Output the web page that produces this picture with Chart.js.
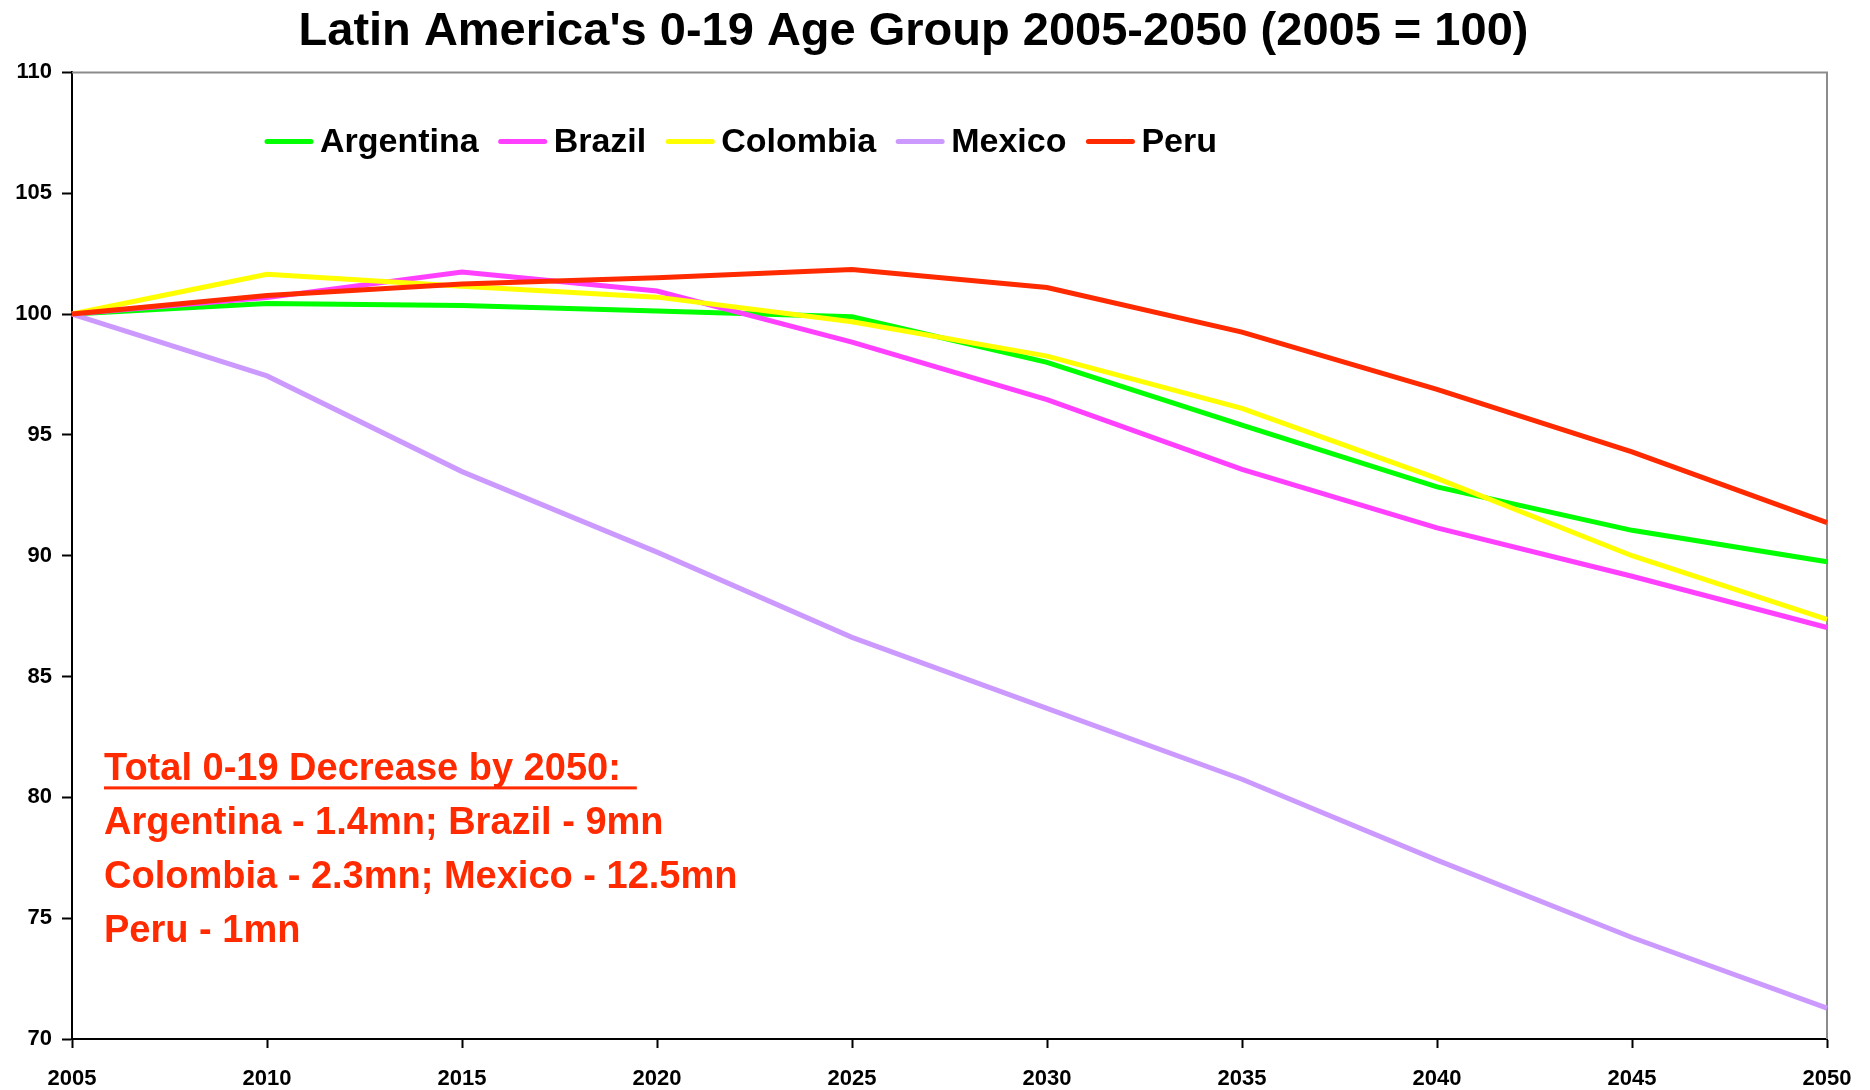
<!DOCTYPE html>
<html>
<head>
<meta charset="utf-8">
<title>Latin America's 0-19 Age Group</title>
<script src="https://cdn.jsdelivr.net/npm/chart.js@4.4.1/dist/chart.umd.min.js"></script>
<style>
  html, body { margin: 0; padding: 0; background: #fff; }
  canvas { display: block; }
</style>
</head>
<body>
<canvas id="ageChart" width="1870" height="1090"></canvas>
<script>
const years = [2005, 2010, 2015, 2020, 2025, 2030, 2035, 2040, 2045, 2050];

const argentina = [100, 100.44, 100.35, 100.13, 99.89, 98.0, 95.4, 92.85, 91.05, 89.75];
const brazil = [100, 100.68, 101.74, 100.95, 98.84, 96.46, 93.57, 91.15, 89.15, 87.03];
const colombia = [100, 101.65, 101.15, 100.7, 99.68, 98.26, 96.1, 93.2, 90.0, 87.36];
const mexico = [100, 97.44, 93.48, 90.15, 86.62, 83.68, 80.75, 77.4, 74.2, 71.28];
const peru = [100, 100.77, 101.24, 101.5, 101.84, 101.1, 99.25, 96.88, 94.3, 91.37];

const seriesNames = ['Argentina', 'Brazil', 'Colombia', 'Mexico', 'Peru'];
const seriesValues = [argentina, brazil, colombia, mexico, peru];
const seriesColors = ['#00ff00', '#ff40ff', '#ffff00', '#cc99ff', '#ff2a00'];

const yMin = 70;
const yMax = 110;
const yStep = 5;

const noteLines = [
  'Total 0-19 Decrease by 2050:',
  'Argentina - 1.4mn; Brazil - 9mn',
  'Colombia - 2.3mn; Mexico - 12.5mn',
  'Peru - 1mn'
];

const FONT = "'Liberation Sans', Arial, sans-serif";

// gray frame on top and right of the plot, like the excel original
const framePlugin = {
  id: 'frame',
  beforeDatasetsDraw(chart) {
    const { ctx, chartArea: a } = chart;
    ctx.save();
    ctx.strokeStyle = '#8c8c8c';
    ctx.lineWidth = 2;
    ctx.beginPath();
    ctx.moveTo(a.left, a.top);
    ctx.lineTo(a.right, a.top);
    ctx.lineTo(a.right, a.bottom);
    ctx.stroke();
    ctx.restore();
  }
};

// legend sits inside the plot area
const insideLegend = {
  id: 'insideLegend',
  afterDraw(chart) {
    const { ctx, chartArea: a } = chart;
    ctx.save();
    ctx.font = `bold 34px ${FONT}`;
    ctx.textBaseline = 'middle';
    let x = a.left + 193;
    const y = a.top + 69;
    seriesNames.forEach((name, i) => {
      ctx.strokeStyle = seriesColors[i];
      ctx.lineWidth = 5;
      ctx.lineCap = 'round';
      ctx.beginPath();
      ctx.moveTo(x + 2, y);
      ctx.lineTo(x + 46, y);
      ctx.stroke();
      ctx.fillStyle = '#000';
      ctx.fillText(name, x + 55, y + 1);
      x += 55 + ctx.measureText(name).width + 20;
    });
    ctx.restore();
  }
};

const notePlugin = {
  id: 'note',
  afterDraw(chart) {
    const { ctx, chartArea: a } = chart;
    ctx.save();
    ctx.font = `bold 38px ${FONT}`;
    ctx.fillStyle = '#ff2a00';
    ctx.textBaseline = 'alphabetic';
    const x = a.left + 32;
    let y = a.top + 708;
    noteLines.forEach((line, i) => {
      ctx.fillText(line, x, y);
      if (i === 0) {
        const w = ctx.measureText(line).width;
        ctx.fillRect(x, y + 6, w + 16, 3);
      }
      y += 54;
    });
    ctx.restore();
  }
};

new Chart(document.getElementById('ageChart').getContext('2d'), {
  type: 'line',
  data: {
    labels: years,
    datasets: seriesNames.map((name, i) => ({
      label: name,
      data: seriesValues[i],
      borderColor: seriesColors[i],
      backgroundColor: seriesColors[i],
      borderWidth: 5,
      pointRadius: 0,
      tension: 0,
      fill: false,
      order: seriesNames.length - 1 - i
    }))
  },
  options: {
    responsive: false,
    animation: false,
    devicePixelRatio: 1,
    layout: { padding: { left: 0, right: 43, top: 0, bottom: 0 } },
    plugins: {
      legend: { display: false },
      tooltip: { enabled: false },
      title: {
        display: true,
        text: "Latin America's 0-19 Age Group 2005-2050 (2005 = 100)",
        color: '#000',
        font: { family: FONT, size: 47, weight: 'bold' },
        padding: { top: 4, bottom: 12 }
      }
    },
    scales: {
      x: {
        type: 'category',
        offset: false,
        afterFit: (s) => { s.height = 51; },
        grid: {
          display: true,
          drawOnChartArea: false,
          drawTicks: true,
          tickLength: 9,
          tickColor: '#000',
          tickWidth: 2
        },
        border: { display: true, color: '#000', width: 2 },
        ticks: {
          color: '#000',
          padding: 18,
          maxRotation: 0,
          autoSkip: false,
          font: { family: FONT, size: 22, weight: 'bold' }
        }
      },
      y: {
        min: yMin,
        max: yMax,
        afterFit: (s) => { s.width = 72; },
        grid: {
          display: true,
          drawOnChartArea: false,
          drawTicks: true,
          tickLength: 10,
          tickColor: '#000',
          tickWidth: 2
        },
        border: { display: true, color: '#000', width: 2 },
        ticks: {
          stepSize: yStep,
          color: '#000',
          padding: 10,
          font: { family: FONT, size: 22, weight: 'bold' }
        }
      }
    }
  },
  plugins: [framePlugin, insideLegend, notePlugin]
});
</script>
</body>
</html>
